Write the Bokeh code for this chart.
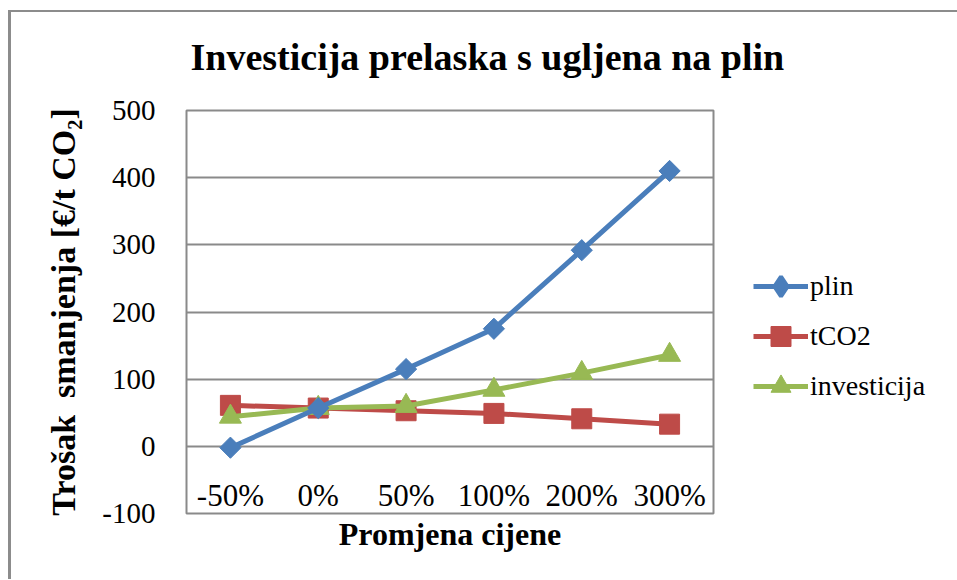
import math
from bokeh.plotting import figure
from bokeh.models import (ColumnDataSource, FactorRange, Range1d, Legend, LegendItem,
                          SingleIntervalTicker)
from bokeh.core.properties import value
from bokeh.embed import file_html
from bokeh.resources import INLINE

categories = ["-50%", "0%", "50%", "100%", "200%", "300%"]
plin = [-2, 57, 115, 175, 292, 410]
tco2 = [61, 57, 53, 49, 41, 33]
investicija = [44, 57, 60, 84, 109, 136]
y_ticks = [-100, 0, 100, 200, 300, 400, 500]

FONT = "'Liberation Serif', 'Times New Roman', serif"
GRID = "#8a8a8a"

src = ColumnDataSource(dict(cat=categories, plin=plin, tco2=tco2, inv=investicija,
                            ybot=[y_ticks[0]] * len(categories)))
# legend-only source: one point with no value, so nothing is drawn in the plot
legend_src = ColumnDataSource(dict(cat=[categories[0]], v=[float("nan")]))

p = figure(x_range=FactorRange(*categories, range_padding=0),
           y_range=Range1d(y_ticks[0], y_ticks[-1]),
           frame_width=527, frame_height=403,
           min_border_left=178, min_border_right=243, min_border_top=110, min_border_bottom=66,
           output_backend="svg", toolbar_location=None)
# outer chart-area border (left and top edges), drawn as the host's background
p.styles = {
    "margin-left": "8px",
    "background": ("linear-gradient(#8c8c8c, #8c8c8c) 0px 10px / 3px calc(100% - 10px) no-repeat, "
                   "linear-gradient(#8c8c8c, #8c8c8c) 0px 10px / 100% 2px no-repeat, white"),
}
p.border_fill_color = None

p.title.text = "Investicija prelaska s ugljena na plin"
p.title.text_font = FONT
p.title.text_font_size = "38px"
p.title.text_font_style = "bold"
p.title.text_color = "black"
p.title.align = "left"
p.title.offset = 4
p.title.standoff = 65

p.outline_line_color = GRID
p.outline_line_width = 2
p.background_fill_color = "white"

p.xgrid.grid_line_color = None
p.ygrid.grid_line_color = GRID
p.ygrid.grid_line_width = 2
p.ygrid.ticker = SingleIntervalTicker(interval=100)

yax = p.yaxis[0]
yax.ticker = SingleIntervalTicker(interval=100)
yax.major_label_overrides = {t: str(t) for t in y_ticks}
yax.axis_line_color = None
yax.major_tick_line_color = None
yax.minor_tick_line_color = None
yax.major_label_text_font = FONT
yax.major_label_text_font_size = "29px"
yax.major_label_text_color = "black"
yax.major_label_standoff = 25
yax.axis_label = "Trošak\u00a0 smanjenja [€/t CO₂]"
yax.axis_label_text_font = FONT
yax.axis_label_text_font_size = "34px"
yax.axis_label_text_font_style = "bold"
yax.axis_label_text_color = "black"
yax.axis_label_standoff = 17

xax = p.xaxis[0]
xax.axis_line_color = None
xax.major_tick_line_color = None
xax.minor_tick_line_color = None
xax.major_label_text_font_size = "1px"
xax.major_label_text_color = None
xax.major_label_standoff = 0
xax.axis_label = "Promjena cijene"
xax.axis_label_text_font = FONT
xax.axis_label_text_font_size = "32px"
xax.axis_label_text_font_style = "bold"
xax.axis_label_text_color = "black"
xax.axis_label_standoff = -4

# category labels drawn inside the plot area, just above the bottom edge
p.text(x="cat", y="ybot", text="cat", source=src, text_font=value(FONT),
       text_font_size="31px", text_align="center", text_baseline="alphabetic",
       y_offset=-18, text_color="black")

BLUE, RED, GREEN = "#4a7ebb", "#be4b48", "#98b954"
l2 = p.line("cat", "tco2", source=src, line_color=RED, line_width=5)
m2 = p.scatter("cat", "tco2", source=src, marker="square", size=20,
               fill_color=RED, line_color=RED)
l3 = p.line("cat", "inv", source=src, line_color=GREEN, line_width=5)
m3 = p.scatter("cat", "inv", source=src, marker="triangle", size=22,
               fill_color=GREEN, line_color=GREEN)
l1 = p.line("cat", "plin", source=src, line_color=BLUE, line_width=5)
m1 = p.scatter("cat", "plin", source=src, marker="square", angle=math.pi / 4, size=15,
               fill_color=BLUE, line_color=BLUE)
d1 = p.scatter("cat", "v", source=legend_src, marker="diamond", size=22,
               fill_color=BLUE, line_color=BLUE, line_width=4)

legend = Legend(items=[LegendItem(label="plin", renderers=[l1, d1]),
                       LegendItem(label="tCO2", renderers=[l2, m2]),
                       LegendItem(label="investicija", renderers=[l3, m3])],
                location=(40, 102), orientation="vertical")
legend.border_line_color = None
legend.background_fill_color = None
legend.padding = 0
legend.margin = 0
legend.spacing = 0
legend.glyph_width = 55
legend.glyph_height = 50
legend.label_height = 50
legend.label_standoff = 2
legend.label_text_font = FONT
legend.label_text_font_size = "28px"
legend.label_text_color = "black"
p.add_layout(legend, "right")

open("out.html", "w").write(file_html(p, INLINE))
